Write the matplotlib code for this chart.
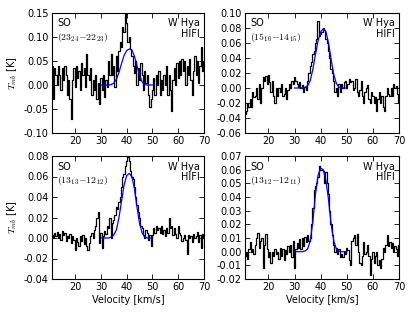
import numpy as np
import matplotlib
matplotlib.use('Agg')
import matplotlib.pyplot as plt

plt.rcParams.update({
    'font.family': 'DejaVu Sans',
    'font.size': 7,
    'mathtext.fontset': 'cm',
    'xtick.direction': 'in',
    'ytick.direction': 'in',
    'xtick.top': True,
    'ytick.right': True,
    'xtick.major.size': 3.5,
    'ytick.major.size': 3.5,
    'xtick.major.width': 0.6,
    'ytick.major.width': 0.6,
    'xtick.major.pad': 2.5,
    'ytick.major.pad': 2.5,
    'axes.linewidth': 0.8,
})

# spectra: channels from 11 to 70 km/s, 0.5 km/s spacing
t_2324 = [0.04, -0.03, 0.035, 0.02, 0.0, 0.04, 0.02, -0.01, 0.035, 0.01,
          0.04, 0.02, -0.02, 0.01, -0.03, -0.07, 0.01, 0.035, -0.005, 0.04,
          0.015, 0.03, -0.01, 0.045, 0.02, 0.035, -0.005, 0.065, 0.02, 0.01,
          0.035, -0.02, 0.01, -0.01, 0.02, -0.03, 0.005, -0.04, 0.015, -0.01,
          0.02, -0.025, 0.01, -0.005, 0.05, 0.02, 0.065, 0.02, 0.04, -0.005,
          0.06, 0.03, 0.07, 0.09, 0.08, 0.12, 0.11, 0.15, 0.13, 0.09,
          0.1, 0.075, 0.06, 0.04, 0.025, 0.05, 0.0, 0.035, 0.01, 0.045,
          0.02, -0.01, 0.03, 0.005, 0.02, -0.02, -0.045, -0.03, -0.01, 0.015,
          -0.02, 0.02, 0.0, 0.03, -0.02, 0.01, -0.01, 0.02, 0.0, 0.04,
          -0.02, 0.02, -0.01, -0.055, 0.01, 0.035, 0.0, 0.045, 0.015, 0.05,
          0.02, 0.055, 0.03, 0.05, 0.0, 0.04, 0.02, 0.055, 0.01, -0.02,
          0.03, 0.06, 0.02, 0.05, 0.005, 0.04, 0.08, 0.03, 0.05]

t_1516 = [-0.035, -0.03, -0.02, -0.025, -0.015, -0.025, -0.005, -0.012, -0.01, 0.0,
          -0.015, 0.005, -0.02, 0.0, 0.015, 0.01, 0.016, 0.005, 0.018, 0.008,
          -0.005, 0.01, -0.01, -0.02, 0.0, -0.01, 0.0, -0.005, 0.005, -0.01,
          -0.008, 0.0, -0.015, -0.002, 0.005, 0.0, 0.01, 0.005, 0.015, 0.01,
          0.005, 0.002, 0.008, 0.0, 0.004, -0.005, 0.002, -0.002, 0.01, 0.02,
          0.03, 0.035, 0.045, 0.05, 0.06, 0.065, 0.09, 0.07, 0.072, 0.075,
          0.08, 0.078, 0.065, 0.06, 0.05, 0.04, 0.025, 0.02, 0.01, -0.005,
          0.0, -0.01, 0.005, -0.005, 0.005, 0.0, 0.008, 0.01, 0.0, 0.005,
          0.012, 0.008, 0.01, -0.002, 0.0, 0.012, -0.005, -0.01, -0.002, 0.01,
          -0.01, -0.02, -0.005, 0.0, 0.004, -0.014, -0.02, -0.005, -0.01, -0.02,
          -0.012, -0.03, -0.015, -0.005, -0.02, -0.01, -0.025, -0.03, -0.01, 0.0,
          -0.008, -0.01, 0.0, -0.01, 0.005, 0.0, 0.003, -0.008, -0.02]

t_1313 = [0.003, 0.0, 0.005, 0.002, 0.006, 0.0, 0.004, -0.002, 0.007, 0.003,
          0.005, -0.003, 0.002, 0.0, 0.004, -0.005, 0.002, -0.002, -0.012, 0.0,
          -0.004, -0.008, 0.002, -0.003, 0.003, -0.006, 0.0, -0.008, -0.012, -0.005,
          0.002, 0.005, 0.0, 0.008, 0.012, 0.02, 0.025, -0.005, 0.005, -0.01,
          0.002, 0.007, 0.004, 0.012, 0.01, 0.02, 0.0, 0.015, 0.018, 0.022,
          0.03, 0.028, 0.035, 0.04, 0.05, 0.06, 0.062, 0.07, 0.075, 0.079,
          0.075, 0.065, 0.06, 0.058, 0.05, 0.04, 0.032, 0.025, 0.02, 0.012,
          0.01, 0.003, 0.0, 0.008, 0.005, -0.002, 0.003, -0.008, 0.003, 0.01,
          0.005, 0.012, 0.008, 0.01, 0.005, 0.012, 0.004, 0.008, 0.002, 0.01,
          0.005, 0.02, 0.01, 0.012, 0.003, 0.01, 0.004, 0.0, 0.012, 0.005,
          0.003, -0.003, 0.0, 0.003, -0.002, -0.016, 0.003, 0.0, 0.002, -0.004,
          0.004, 0.0, 0.002, 0.006, -0.004, 0.003, -0.01, 0.004, 0.0]

t_1312 = [-0.003, 0.0, -0.005, 0.002, 0.007, 0.0, 0.002, -0.002, 0.005, 0.01,
          0.014, 0.003, 0.008, 0.01, -0.012, 0.005, 0.013, 0.002, -0.004, 0.0,
          -0.008, 0.0, -0.003, 0.002, -0.002, 0.0, -0.005, 0.003, -0.003, 0.002,
          -0.006, 0.001, -0.002, 0.004, 0.0, 0.005, -0.004, 0.008, -0.012, 0.002,
          0.006, 0.003, 0.009, 0.002, 0.01, 0.004, 0.011, 0.007, 0.012, 0.008,
          0.01, 0.02, 0.032, 0.045, 0.048, 0.05, 0.055, 0.063, 0.06, 0.06,
          0.059, 0.05, 0.058, 0.05, 0.042, 0.03, 0.02, 0.012, 0.005, 0.0,
          0.003, -0.002, 0.002, -0.004, -0.002, -0.004, 0.0, -0.002, 0.003, 0.001,
          -0.006, -0.01, 0.008, 0.01, 0.012, 0.005, 0.013, 0.0, -0.008, -0.01,
          -0.003, 0.007, -0.002, 0.0, 0.005, -0.003, -0.017, -0.005, 0.0, -0.008,
          -0.003, 0.0, -0.01, -0.006, -0.012, -0.005, 0.003, 0.0, 0.005, 0.012,
          0.004, 0.007, 0.003, 0.006, 0.0, 0.004, 0.002, -0.003, 0.005]

# model line profiles, 30..50 km/s at 1 km/s
m_2324 = [0, 0, 0, 0, 0.001, 0.004, 0.012, 0.026, 0.045, 0.062, 0.072,
          0.075, 0.073, 0.06, 0.04, 0.02, 0.006, 0.001, 0, 0, 0]
m_1516 = [0, 0, 0, 0, 0.001, 0.003, 0.01, 0.025, 0.045, 0.063, 0.075,
          0.079, 0.075, 0.06, 0.038, 0.018, 0.006, 0.001, 0, 0, 0]
m_1313 = [0, 0, 0, 0, 0.001, 0.003, 0.008, 0.02, 0.036, 0.052, 0.061,
          0.063, 0.06, 0.048, 0.03, 0.014, 0.005, 0.001, 0, 0, 0]
m_1312 = [0, 0, 0, 0, 0.0005, 0.002, 0.008, 0.022, 0.042, 0.056, 0.061,
          0.06, 0.052, 0.038, 0.02, 0.008, 0.002, 0.0005, 0, 0, 0]

labels = [r'$(23_{24}{-}22_{23})$', r'$(15_{16}{-}14_{15})$',
          r'$(13_{13}{-}12_{12})$', r'$(13_{12}{-}12_{11})$']
ylims = [(-0.10, 0.15), (-0.06, 0.10), (-0.04, 0.08), (-0.02, 0.07)]
ysteps = [0.05, 0.02, 0.02, 0.01]
spectra = [t_2324, t_1516, t_1313, t_1312]
models = [m_2324, m_1516, m_1313, m_1312]

W, H = 415, 312
# axes boxes in pixels: left, top, right, bottom
boxes = [(52, 13, 204, 133), (245, 13, 399, 133),
         (52, 156, 204, 279), (245, 156, 399, 279)]

fig = plt.figure(figsize=(W / 100, H / 100), dpi=100)

for i in range(4):
    l, t, r, b = boxes[i]
    ax = fig.add_axes([l / W, 1 - b / H, (r - l) / W, (b - t) / H])
    spec = spectra[i]
    v = np.linspace(11, 70, len(spec))
    ax.step(v, spec, where='mid', color='k', lw=0.9)
    vm = np.linspace(30, 50, len(models[i]))
    ax.plot(vm, models[i], color='b', lw=0.9)

    ax.set_xlim(11, 70)
    ax.set_ylim(*ylims[i])
    ax.set_xticks([20, 30, 40, 50, 60, 70])
    lo, hi = ylims[i]
    ax.set_yticks(np.arange(lo, hi + ysteps[i] / 2, ysteps[i]))
    ax.yaxis.set_major_formatter(plt.FormatStrFormatter('%.2f'))

    ax.text(0.035, 0.955, 'SO', transform=ax.transAxes, ha='left', va='top')
    ax.text(0.035, 0.85, labels[i], transform=ax.transAxes, ha='left',
            va='top', fontsize=7)
    ax.text(0.975, 0.955, 'W Hya\nHIFI', transform=ax.transAxes, ha='right',
            va='top', multialignment='right', linespacing=1.1)

    if i % 2 == 0:
        ax.set_ylabel(r'$T_{mb}$ [K]', labelpad=3)
    if i >= 2:
        ax.set_xlabel('Velocity [km/s]', labelpad=2)

plt.savefig('out.png', dpi=100)
